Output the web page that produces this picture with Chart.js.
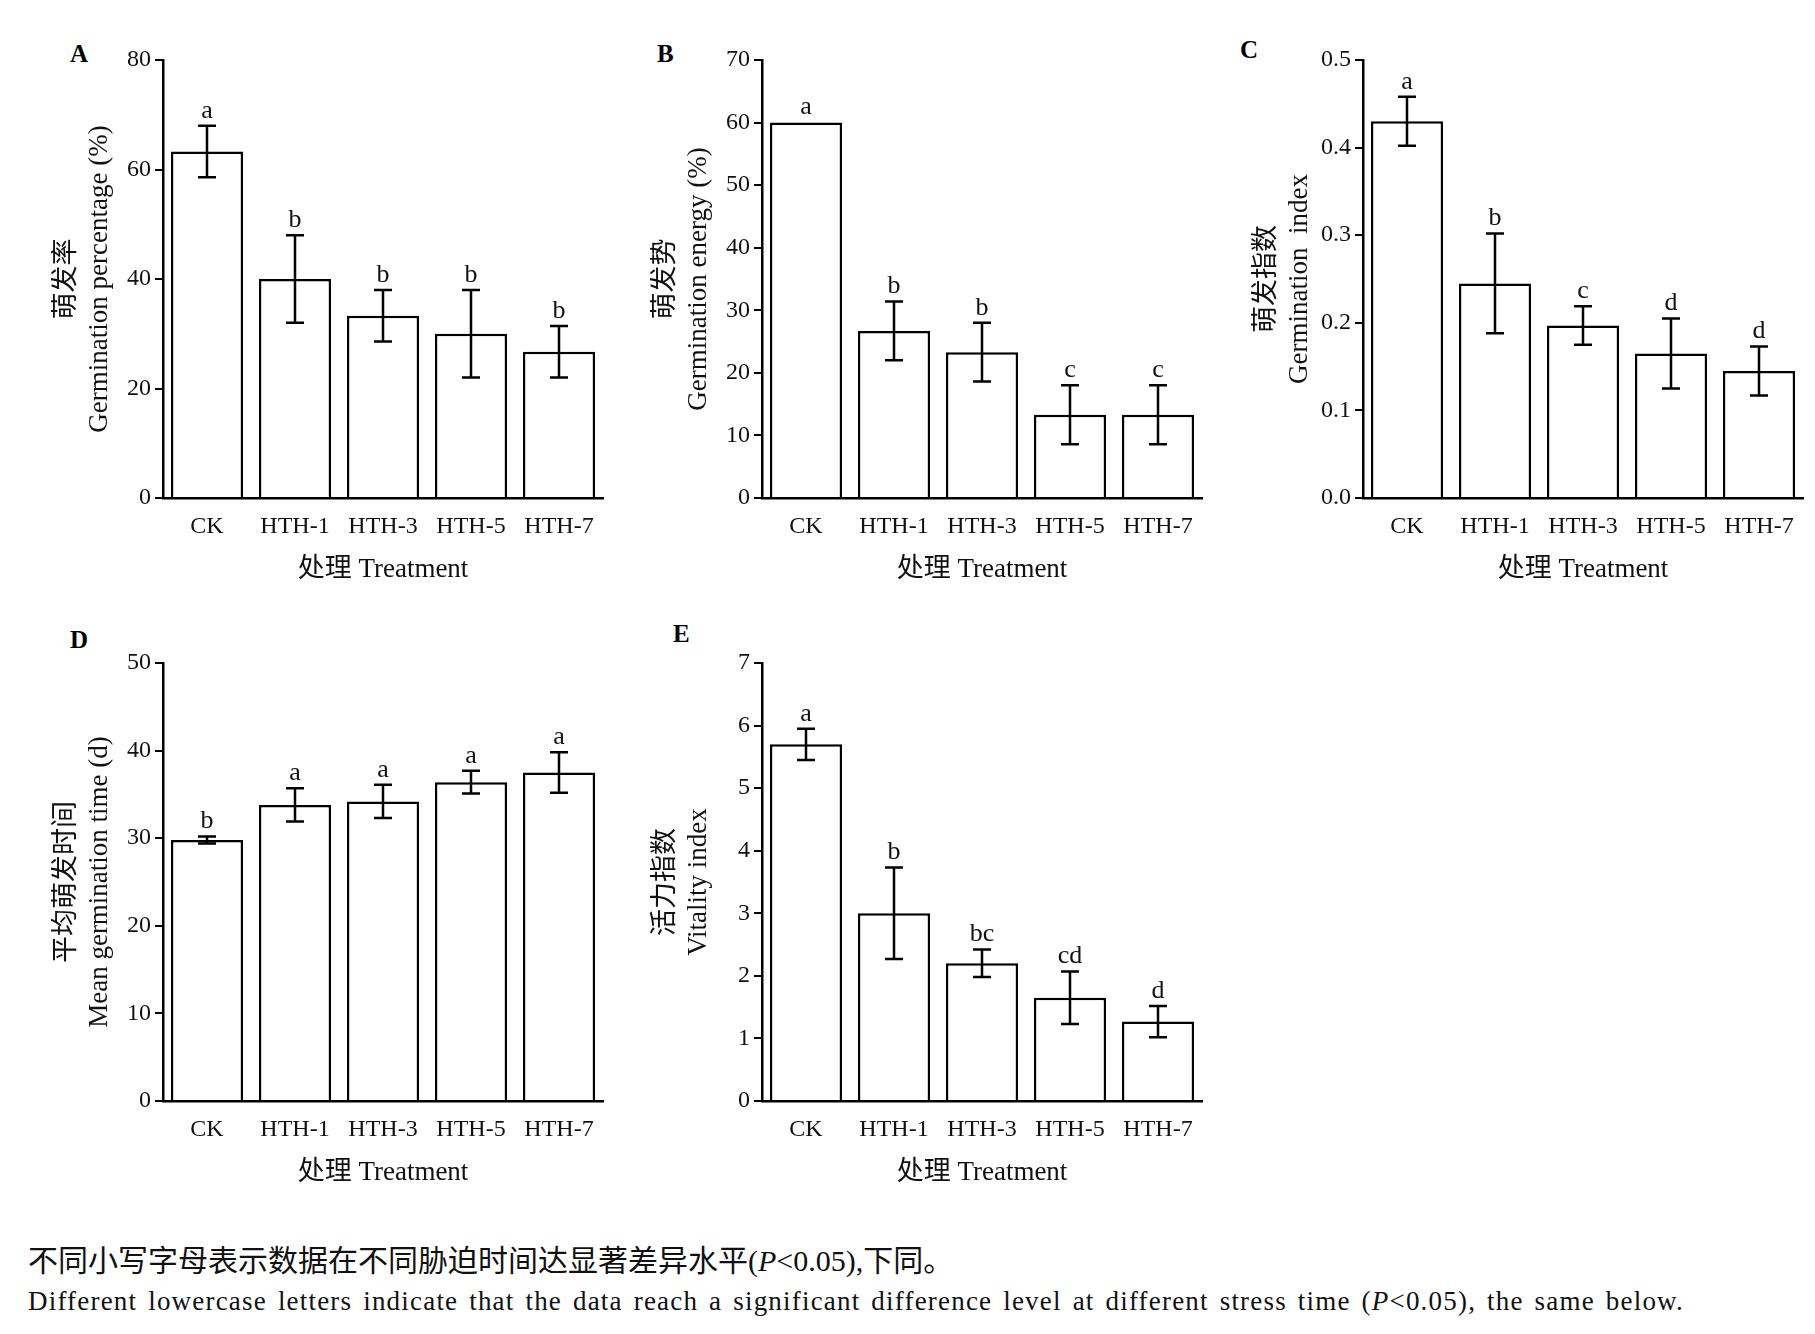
<!DOCTYPE html>
<html><head><meta charset="utf-8">
<script src="https://cdn.jsdelivr.net/npm/chart.js@4.4.1/dist/chart.umd.min.js"></script>
<style>
body{margin:0;background:#fff;width:1815px;height:1334px;position:relative;overflow:hidden;font-family:"Liberation Serif","Noto Sans CJK SC",serif}
.box{position:absolute}
.lab{position:absolute;font-weight:bold;font-size:25px;font-family:"Liberation Serif",serif}
.note{position:absolute;left:28px;color:#111;white-space:nowrap}
</style></head><body>
<div class="lab" style="left:70px;top:40px">A</div>
<div class="lab" style="left:657px;top:40px">B</div>
<div class="lab" style="left:1240px;top:36px">C</div>
<div class="lab" style="left:70px;top:626px">D</div>
<div class="lab" style="left:673px;top:620px">E</div>
<div class="note" style="top:1236px;font-size:30px">不同小写字母表示数据在不同胁迫时间达显著差异水平(<i>P</i>&lt;0.05),下同。</div>
<div class="note" style="top:1286px;font-size:27px;letter-spacing:1.2px;word-spacing:3px">Different lowercase letters indicate that the data reach a significant difference level at different stress time (<i>P</i>&lt;0.05), the same below.</div>
<script>
// categories and values
const treatments = ['CK', 'HTH-1', 'HTH-3', 'HTH-5', 'HTH-7'];

const gpMean = [63.3, 40, 33.3, 30, 26.7];
const gpErr = [4.7, 8, 4.7, 8, 4.7];
const gpSig = ['a', 'b', 'b', 'b', 'b'];

const geMean = [60, 26.7, 23.3, 13.3, 13.3];
const geErr = [0, 4.7, 4.7, 4.7, 4.7];
const geSig = ['a', 'b', 'b', 'c', 'c'];

const giMean = [0.43, 0.245, 0.197, 0.165, 0.145];
const giErr = [0.028, 0.057, 0.022, 0.04, 0.028];
const giSig = ['a', 'b', 'c', 'd', 'd'];

const mgtMean = [29.8, 33.8, 34.2, 36.4, 37.5];
const mgtErr = [0.4, 1.9, 1.9, 1.3, 2.3];
const mgtSig = ['b', 'a', 'a', 'a', 'a'];

const viMean = [5.7, 3.0, 2.2, 1.65, 1.27];
const viErr = [0.25, 0.73, 0.22, 0.42, 0.25];
const viSig = ['a', 'b', 'bc', 'cd', 'd'];

const FONT = '"Liberation Serif","Noto Sans CJK SC",serif';
const YW = 112, XH = 92;

const errPlugin = {
    id: 'errbars',
    afterDatasetsDraw(chart) {
        const c = chart.ctx, meta = chart.getDatasetMeta(0), y = chart.scales.y;
        const o = chart.options.plugins.errbars;
        c.save();
        c.strokeStyle = '#000'; c.lineWidth = 2.5;
        c.fillStyle = '#111'; c.textAlign = 'center'; c.textBaseline = 'bottom';
        c.font = '26px ' + FONT;
        meta.data.forEach((bar, i) => {
            const m = o.mean[i], e = o.err[i];
            const yt = y.getPixelForValue(m + e), yb = y.getPixelForValue(m - e);
            if (e > 0) {
                c.beginPath();
                c.moveTo(bar.x, yt); c.lineTo(bar.x, yb);
                c.moveTo(bar.x - 9, yt); c.lineTo(bar.x + 9, yt);
                c.moveTo(bar.x - 9, yb); c.lineTo(bar.x + 9, yb);
                c.stroke();
            }
            c.fillText(o.sig[i], bar.x, yt - 2);
        });
        c.restore();
    }
};

function makeChart(left, top, mean, err, sig, max, step, ytitle, dec) {
    const cv = document.createElement('canvas');
    const div = document.createElement('div');
    div.className = 'box';
    div.style.left = (left - YW) + 'px';
    div.style.top = (top - 30) + 'px';
    div.style.width = (YW + 440 + 12) + 'px';
    div.style.height = (30 + 438 + XH) + 'px';
    div.appendChild(cv);
    document.body.appendChild(div);
    new Chart(cv, {
        type: 'bar',
        data: {
            labels: treatments,
            datasets: [{
                data: mean,
                backgroundColor: '#fff',
                borderColor: '#000',
                borderWidth: 2.5,
                barPercentage: 0.82,
                categoryPercentage: 1
            }]
        },
        options: {
            responsive: true, maintainAspectRatio: false, animation: false,
            layout: { padding: { top: 30, right: 12 } },
            plugins: { legend: { display: false }, tooltip: { enabled: false },
                errbars: { mean: mean, err: err, sig: sig } },
            scales: {
                y: {
                    min: 0, max: max,
                    afterFit: s => { s.width = YW; },
                    border: { color: '#000', width: 2.5 },
                    grid: { drawOnChartArea: false, color: '#000', tickLength: 8, lineWidth: 2 },
                    ticks: { stepSize: step, color: '#111', font: { size: 24, family: FONT }, padding: 4,
                        callback: v => dec ? v.toFixed(1) : v },
                    title: { display: true, text: ytitle, color: '#111', font: { size: 27, family: FONT }, padding: 0 }
                },
                x: {
                    afterFit: s => { s.height = XH; },
                    border: { color: '#000', width: 2.5 },
                    grid: { display: false },
                    ticks: { color: '#111', font: { size: 24, family: FONT }, padding: 6, maxRotation: 0 },
                    title: { display: true, text: '处理 Treatment', color: '#111', font: { size: 27, family: FONT }, padding: { top: 6 } }
                }
            }
        },
        plugins: [errPlugin]
    });
}

makeChart(163, 60, gpMean, gpErr, gpSig, 80, 20, ['萌发率', 'Germination percentage (%)'], false);
makeChart(762, 60, geMean, geErr, geSig, 70, 10, ['萌发势', 'Germination energy (%)'], false);
makeChart(1363, 60, giMean, giErr, giSig, 0.5, 0.1, ['萌发指数', 'Germination  index'], true);
makeChart(163, 663, mgtMean, mgtErr, mgtSig, 50, 10, ['平均萌发时间', 'Mean germination time (d)'], false);
makeChart(762, 663, viMean, viErr, viSig, 7, 1, ['活力指数', 'Vitality index'], false);
</script>
</body></html>
